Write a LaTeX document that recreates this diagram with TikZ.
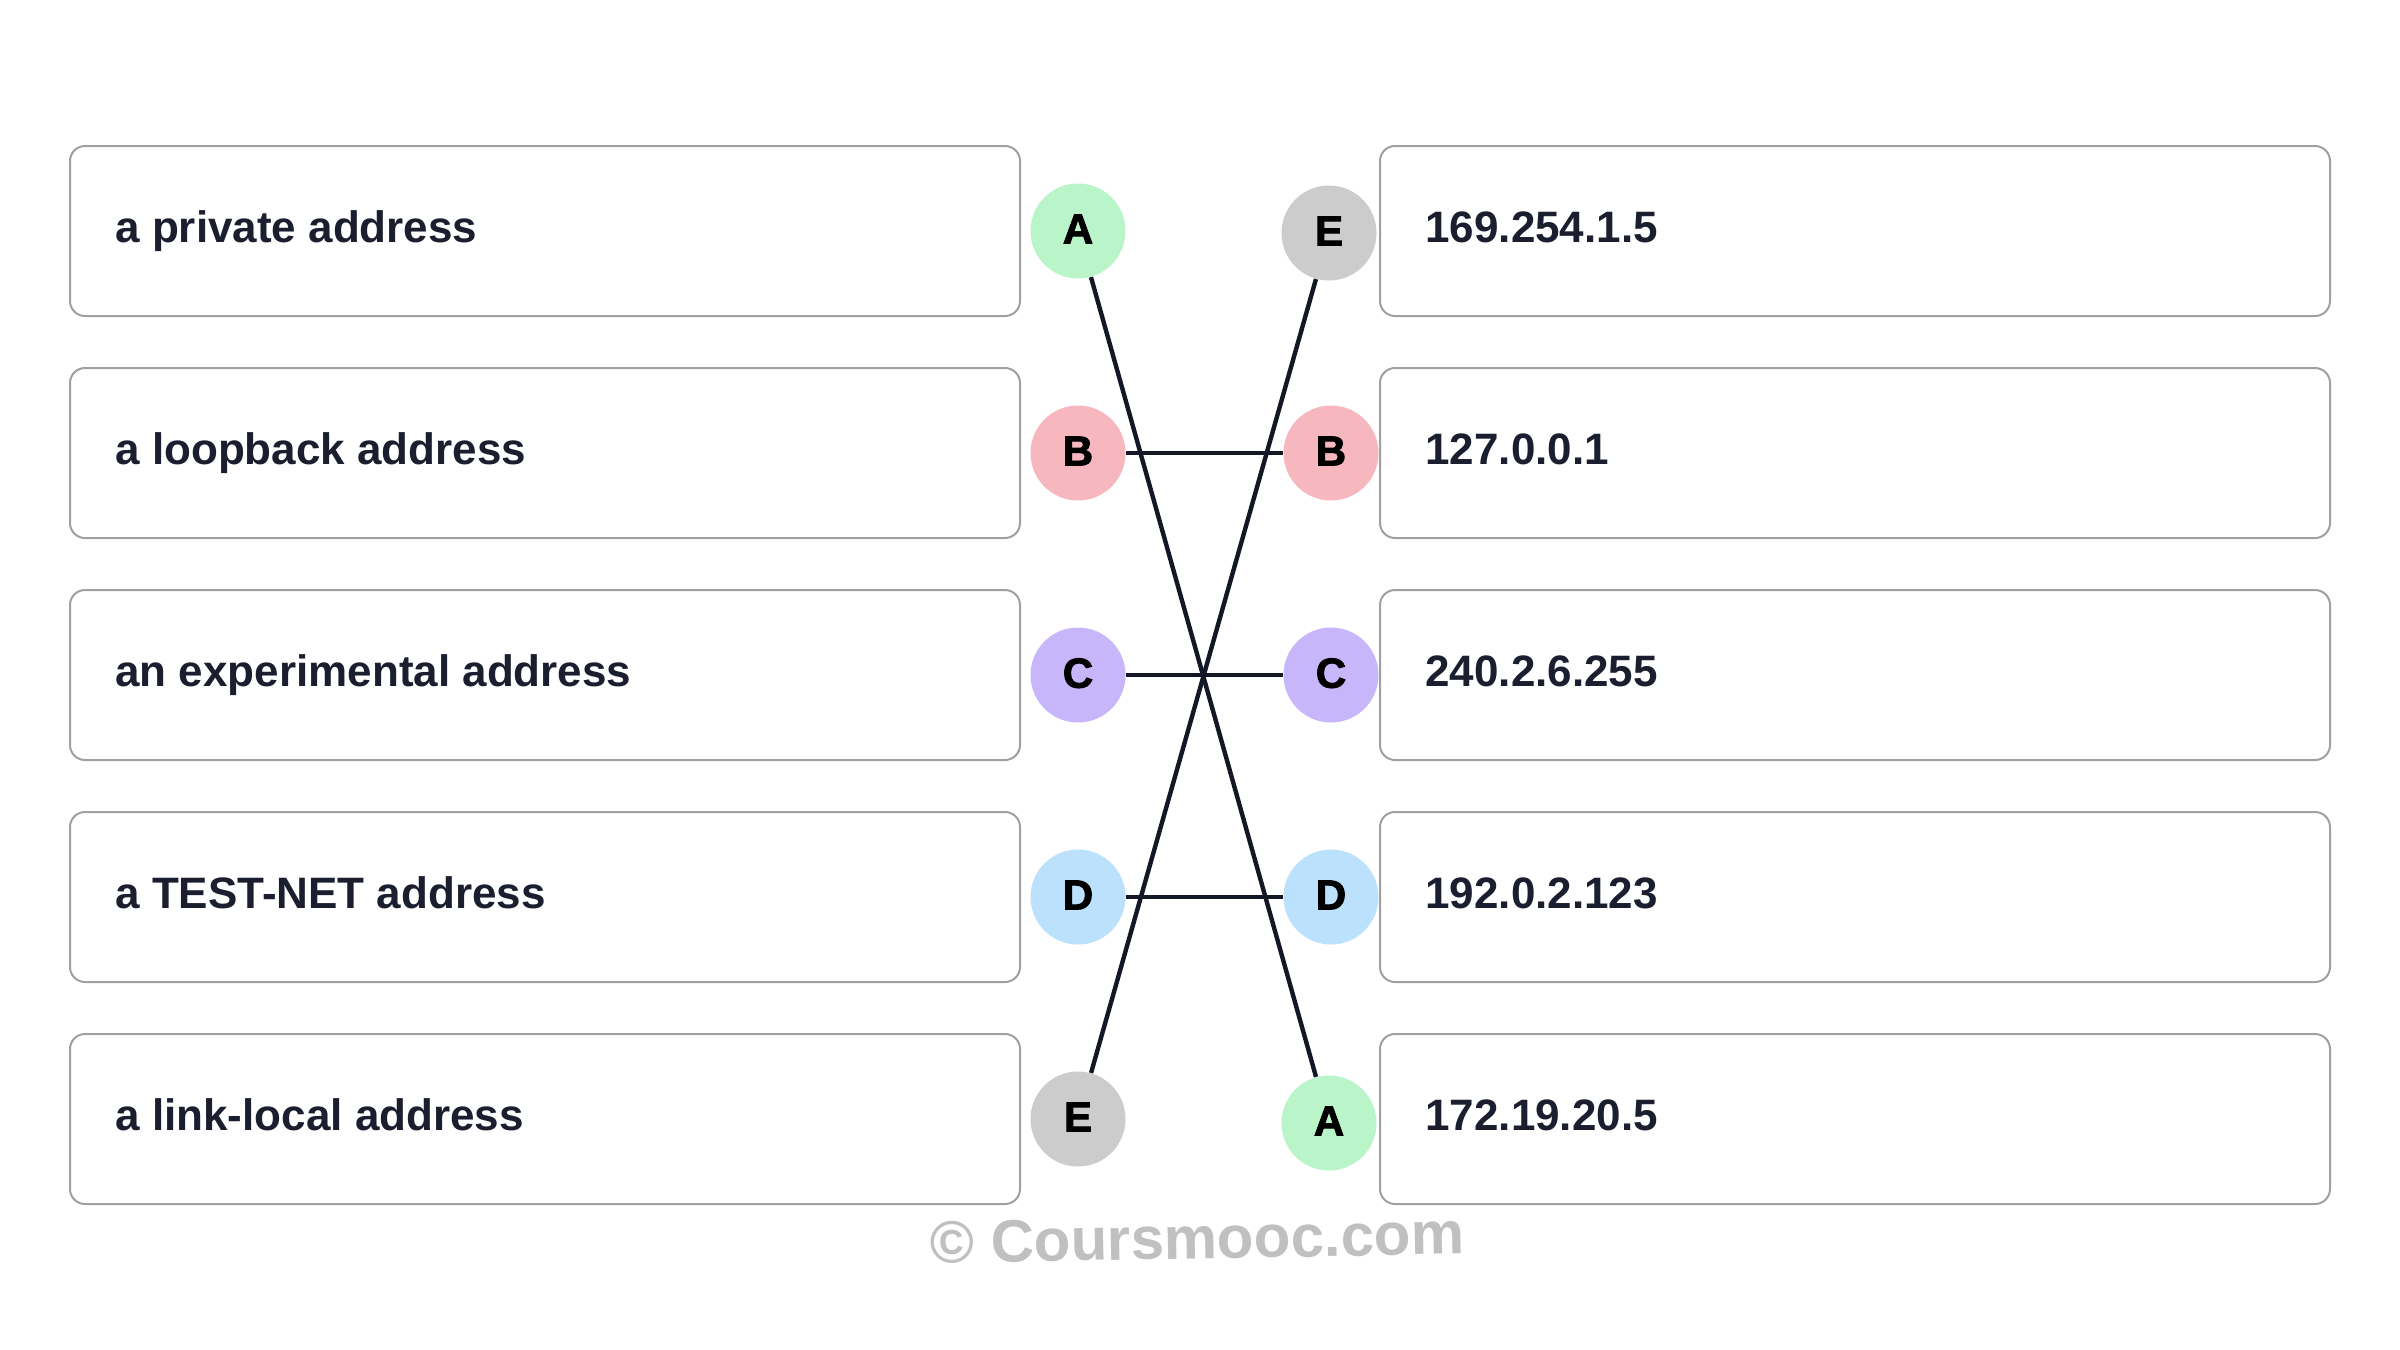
\documentclass[tikz,border=0pt]{standalone}
\usepackage{fontspec}
\setmainfont{Liberation Sans}
\newfontfamily\badgefont[FakeBold=2.2]{Liberation Sans Bold}
\definecolor{boxline}{RGB}{160,160,164}
\definecolor{txt}{RGB}{26,30,46}
\definecolor{conn}{RGB}{20,24,38}
\definecolor{cA}{RGB}{186,244,201}
\definecolor{cB}{RGB}{246,184,190}
\definecolor{cC}{RGB}{200,182,250}
\definecolor{cD}{RGB}{187,225,252}
\definecolor{cE}{RGB}{204,204,204}
\definecolor{wm}{RGB}{192,192,192}
\tikzset{
  answerbox/.style={draw=boxline, line width=1pt, rounded corners=7.5pt, fill=white},
  boxtext/.style={anchor=base west, inner sep=0pt, text=txt, font=\fontsize{22}{26}\selectfont\bfseries},
  badge/.style={circle, minimum size=47.5pt, inner sep=0pt, text=black, font=\fontsize{21}{24}\badgefont},
  link/.style={draw=conn, line width=2.2pt},
}
\newcommand{\badgetxt}[1]{\raisebox{2pt}{#1}}
\begin{document}
\begin{tikzpicture}[x=0.5pt,y=-0.5pt]
\useasboundingbox (0,0) rectangle (2400,1350);
\fill[white] (0,0) rectangle (2400,1350);
% left boxes
\foreach \i/\t in {0/a private address,1/a loopback address,2/an experimental address,3/a TEST-NET address,4/a link-local address}{
  \draw[answerbox] (70,{146+222*\i}) rectangle (1020,{316+222*\i});
  \node[boxtext] (lt\i) at (115,{242+222*\i}) {\t};
}
% right boxes
\foreach \i/\t in {0/169.254.1.5,1/127.0.0.1,2/240.2.6.255,3/192.0.2.123,4/172.19.20.5}{
  \draw[answerbox] (1380,{146+222*\i}) rectangle (2330,{316+222*\i});
  \node[boxtext] (rt\i) at (1425,{242+222*\i}) {\t};
}
% left badges
\node[badge, fill=cA] (LA) at (1078,231) {\badgetxt{A}};
\node[badge, fill=cB] (LB) at (1078,453) {\badgetxt{B}};
\node[badge, fill=cC] (LC) at (1078,675) {\badgetxt{C}};
\node[badge, fill=cD] (LD) at (1078,897) {\badgetxt{D}};
\node[badge, fill=cE] (LE) at (1078,1119) {\badgetxt{E}};
% right badges
\node[badge, fill=cE] (RE) at (1329,233) {\badgetxt{E}};
\node[badge, fill=cB] (RB) at (1331,453) {\badgetxt{B}};
\node[badge, fill=cC] (RC) at (1331,675) {\badgetxt{C}};
\node[badge, fill=cD] (RD) at (1331,897) {\badgetxt{D}};
\node[badge, fill=cA] (RA) at (1329,1123) {\badgetxt{A}};
% connectors
\draw[link] (LA) -- (RA);
\draw[link] (LE) -- (RE);
\draw[link] (LB) -- (RB);
\draw[link] (LC) -- (RC);
\draw[link] (LD) -- (RD);
% watermark
\node[text=wm, rotate=1, font=\fontsize{30}{34}\selectfont\bfseries] (wmk) at (1197,1238) {© Coursmooc.com};
\end{tikzpicture}
\end{document}
